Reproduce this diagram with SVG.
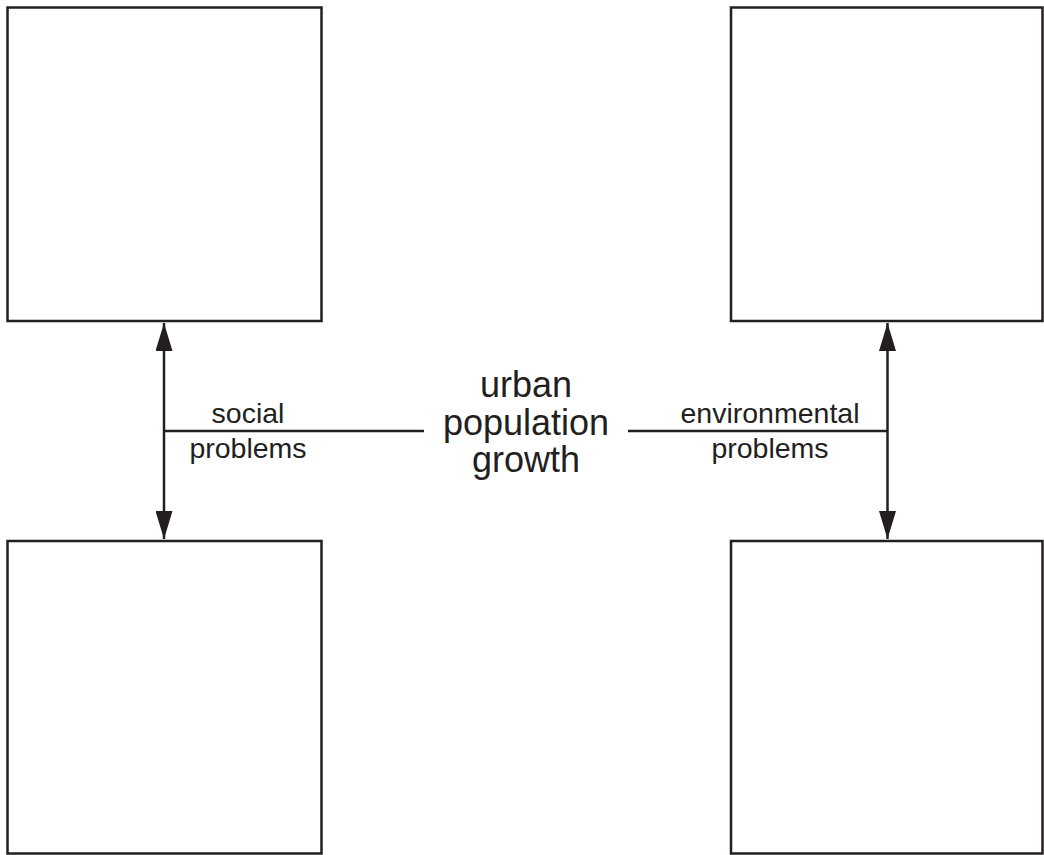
<svg xmlns="http://www.w3.org/2000/svg" width="1044" height="855" viewBox="0 0 1044 855">
<style>
.box{fill:#fff;stroke:#231f20;stroke-width:2.5}
.ln{stroke:#231f20;stroke-width:2.5;fill:none}
.sm{font-family:"Liberation Sans",Arial,sans-serif;font-size:28.5px;fill:#231f20;text-anchor:middle}
.lg{font-family:"Liberation Sans",Arial,sans-serif;font-size:36px;fill:#231f20;text-anchor:middle}
</style>
<defs>
<marker id="ah" viewBox="0 0 28 17" refX="28" refY="8.5" markerWidth="28" markerHeight="17" markerUnits="userSpaceOnUse" orient="auto-start-reverse">
<path d="M0,0 L28,8.5 L0,17 Z" fill="#231f20"/>
</marker>
</defs>
<rect width="1044" height="855" fill="#fff"/>
<g id="box-top-left"><rect class="box" x="7.5" y="7.5" width="314" height="313.5"/></g>
<g id="box-top-right"><rect class="box" x="731" y="7.5" width="311.5" height="313.5"/></g>
<g id="box-bottom-left"><rect class="box" x="7.5" y="541" width="314" height="312.5"/></g>
<g id="box-bottom-right"><rect class="box" x="731" y="541" width="311.5" height="312.5"/></g>
<g id="center"><text class="lg"><tspan x="526" y="397">urban</tspan><tspan x="526" y="435">population</tspan><tspan x="526" y="472">growth</tspan></text></g>
<g id="connectors">
<line class="ln" x1="164" y1="431" x2="424" y2="431"/>
<line class="ln" x1="164" y1="323" x2="164" y2="539" marker-start="url(#ah)" marker-end="url(#ah)"/>
<line class="ln" x1="628" y1="431" x2="887.5" y2="431"/>
<line class="ln" x1="887.5" y1="323" x2="887.5" y2="539" marker-start="url(#ah)" marker-end="url(#ah)"/>
</g>
<g id="labels">
<text class="sm"><tspan x="248" y="423">social</tspan><tspan x="248" y="458">problems</tspan></text>
<text class="sm"><tspan x="770" y="423">environmental</tspan><tspan x="770" y="458">problems</tspan></text>
</g>
</svg>
